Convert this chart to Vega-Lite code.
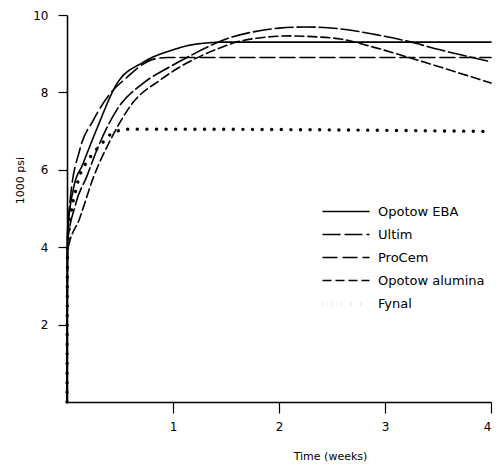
{
  "$schema": "https://vega.github.io/schema/vega-lite/v6.json",
  "width": 424,
  "height": 387,
  "autosize": "none",
  "padding": {"left": 67, "top": 15, "right": 8, "bottom": 68},
  "background": "white",
  "config": {
    "view": {"stroke": null},
    "font": "DejaVu Sans",
    "axis": {
      "grid": false,
      "domainColor": "black",
      "tickColor": "black",
      "labelColor": "black",
      "titleColor": "black",
      "domainWidth": 1.6,
      "tickWidth": 1.2,
      "titleFontWeight": "normal"
    }
  },
  "data": {
    "values": [
      {"cement": "Opotow EBA", "weeks": 0, "psi": 0},
      {"cement": "Opotow EBA", "weeks": 0.005, "psi": 4.3},
      {"cement": "Opotow EBA", "weeks": 0.06, "psi": 5.5},
      {"cement": "Opotow EBA", "weeks": 0.15, "psi": 6.15},
      {"cement": "Opotow EBA", "weeks": 0.28, "psi": 7.05},
      {"cement": "Opotow EBA", "weeks": 0.47, "psi": 8.22},
      {"cement": "Opotow EBA", "weeks": 0.72, "psi": 8.78},
      {"cement": "Opotow EBA", "weeks": 1.0, "psi": 9.1},
      {"cement": "Opotow EBA", "weeks": 1.2, "psi": 9.24},
      {"cement": "Opotow EBA", "weeks": 1.5, "psi": 9.3},
      {"cement": "Opotow EBA", "weeks": 2.0, "psi": 9.3},
      {"cement": "Opotow EBA", "weeks": 3.0, "psi": 9.3},
      {"cement": "Opotow EBA", "weeks": 4.0, "psi": 9.3},
      {"cement": "Ultim", "weeks": 0, "psi": 0},
      {"cement": "Ultim", "weeks": 0.005, "psi": 4.1},
      {"cement": "Ultim", "weeks": 0.08, "psi": 5.1},
      {"cement": "Ultim", "weeks": 0.19, "psi": 5.85},
      {"cement": "Ultim", "weeks": 0.28, "psi": 6.5},
      {"cement": "Ultim", "weeks": 0.47, "psi": 7.55},
      {"cement": "Ultim", "weeks": 0.72, "psi": 8.24},
      {"cement": "Ultim", "weeks": 0.97, "psi": 8.66},
      {"cement": "Ultim", "weeks": 1.2, "psi": 9.0},
      {"cement": "Ultim", "weeks": 1.47, "psi": 9.35},
      {"cement": "Ultim", "weeks": 1.75, "psi": 9.56},
      {"cement": "Ultim", "weeks": 2.0, "psi": 9.66},
      {"cement": "Ultim", "weeks": 2.25, "psi": 9.69},
      {"cement": "Ultim", "weeks": 2.58, "psi": 9.64},
      {"cement": "Ultim", "weeks": 2.9, "psi": 9.5},
      {"cement": "Ultim", "weeks": 3.17, "psi": 9.35},
      {"cement": "Ultim", "weeks": 3.52, "psi": 9.1},
      {"cement": "Ultim", "weeks": 4.0, "psi": 8.79},
      {"cement": "ProCem", "weeks": 0, "psi": 0},
      {"cement": "ProCem", "weeks": 0.005, "psi": 4.4},
      {"cement": "ProCem", "weeks": 0.03, "psi": 5.22},
      {"cement": "ProCem", "weeks": 0.12, "psi": 6.51},
      {"cement": "ProCem", "weeks": 0.25, "psi": 7.29},
      {"cement": "ProCem", "weeks": 0.41, "psi": 7.98},
      {"cement": "ProCem", "weeks": 0.57, "psi": 8.4},
      {"cement": "ProCem", "weeks": 0.7, "psi": 8.7},
      {"cement": "ProCem", "weeks": 0.82, "psi": 8.86},
      {"cement": "ProCem", "weeks": 0.95, "psi": 8.9},
      {"cement": "ProCem", "weeks": 1.5, "psi": 8.9},
      {"cement": "ProCem", "weeks": 2.5, "psi": 8.9},
      {"cement": "ProCem", "weeks": 4.0, "psi": 8.9},
      {"cement": "Opotow alumina", "weeks": 0, "psi": 0},
      {"cement": "Opotow alumina", "weeks": 0.005, "psi": 3.9},
      {"cement": "Opotow alumina", "weeks": 0.12, "psi": 4.75},
      {"cement": "Opotow alumina", "weeks": 0.25, "psi": 5.81},
      {"cement": "Opotow alumina", "weeks": 0.41, "psi": 6.77},
      {"cement": "Opotow alumina", "weeks": 0.62, "psi": 7.73},
      {"cement": "Opotow alumina", "weeks": 0.88, "psi": 8.32},
      {"cement": "Opotow alumina", "weeks": 1.13, "psi": 8.76},
      {"cement": "Opotow alumina", "weeks": 1.4, "psi": 9.1},
      {"cement": "Opotow alumina", "weeks": 1.6, "psi": 9.3},
      {"cement": "Opotow alumina", "weeks": 1.85, "psi": 9.42},
      {"cement": "Opotow alumina", "weeks": 2.1, "psi": 9.46},
      {"cement": "Opotow alumina", "weeks": 2.32, "psi": 9.44},
      {"cement": "Opotow alumina", "weeks": 2.58, "psi": 9.38},
      {"cement": "Opotow alumina", "weeks": 2.89, "psi": 9.17},
      {"cement": "Opotow alumina", "weeks": 3.36, "psi": 8.79},
      {"cement": "Opotow alumina", "weeks": 4.0, "psi": 8.24},
      {"cement": "Fynal", "weeks": 0, "psi": 0},
      {"cement": "Fynal", "weeks": 0.005, "psi": 4.0},
      {"cement": "Fynal", "weeks": 0.09, "psi": 5.56},
      {"cement": "Fynal", "weeks": 0.22, "psi": 6.33},
      {"cement": "Fynal", "weeks": 0.31, "psi": 6.62},
      {"cement": "Fynal", "weeks": 0.43, "psi": 6.95},
      {"cement": "Fynal", "weeks": 0.58, "psi": 7.05},
      {"cement": "Fynal", "weeks": 1.0, "psi": 7.05},
      {"cement": "Fynal", "weeks": 2.0, "psi": 7.04},
      {"cement": "Fynal", "weeks": 3.0, "psi": 7.02},
      {"cement": "Fynal", "weeks": 4.0, "psi": 6.99}
    ]
  },
  "mark": {"type": "line", "color": "black", "interpolate": "monotone", "strokeCap": "round"},
  "encoding": {
    "x": {
      "field": "weeks",
      "type": "quantitative",
      "scale": {"domain": [0, 4]},
      "axis": {
        "values": [1, 2, 3, 4],
        "title": "Time (weeks)",
        "tickSize": 11,
        "labelFontSize": 12,
        "labelPadding": 8,
        "titleFontSize": 11,
        "titleX": 263,
        "titleY": 54,
        "titleBaseline": "middle"
      }
    },
    "y": {
      "field": "psi",
      "type": "quantitative",
      "scale": {"domain": [0, 10]},
      "axis": {
        "values": [2, 4, 6, 8, 10],
        "title": "1000 psi",
        "tickSize": 9,
        "labelFontSize": 12,
        "labelPadding": 10,
        "titleFontSize": 11,
        "titleX": -47,
        "titleY": 165,
        "titleBaseline": "middle"
      }
    },
    "strokeDash": {
      "field": "cement",
      "type": "nominal",
      "scale": {
        "domain": ["Opotow EBA", "Ultim", "ProCem", "Opotow alumina", "Fynal"],
        "range": [[1, 0], [18, 4], [15, 5], [9, 4], [0.1, 9.5]]
      },
      "legend": {
        "title": null,
        "orient": "none",
        "legendX": 272,
        "legendY": 190,
        "padding": 0,
        "symbolType": "M-4.7,0H4.7",
        "symbolSize": 100,
        "symbolStrokeColor": "black",
        "labelFontSize": 13,
        "labelColor": "black",
        "labelOffset": 25,
        "rowPadding": 9
      }
    },
    "strokeWidth": {
      "field": "cement",
      "type": "nominal",
      "scale": {
        "type": "ordinal",
        "domain": ["Opotow EBA", "Ultim", "ProCem", "Opotow alumina", "Fynal"],
        "range": [1.6, 1.6, 1.6, 1.6, 3.4]
      },
      "legend": {
        "title": null,
        "orient": "none",
        "legendX": 272,
        "legendY": 190,
        "padding": 0,
        "symbolType": "M-4.7,0H4.7",
        "symbolSize": 100,
        "symbolStrokeColor": "black",
        "labelFontSize": 13,
        "labelColor": "black",
        "labelOffset": 25,
        "rowPadding": 9
      }
    }
  }
}
